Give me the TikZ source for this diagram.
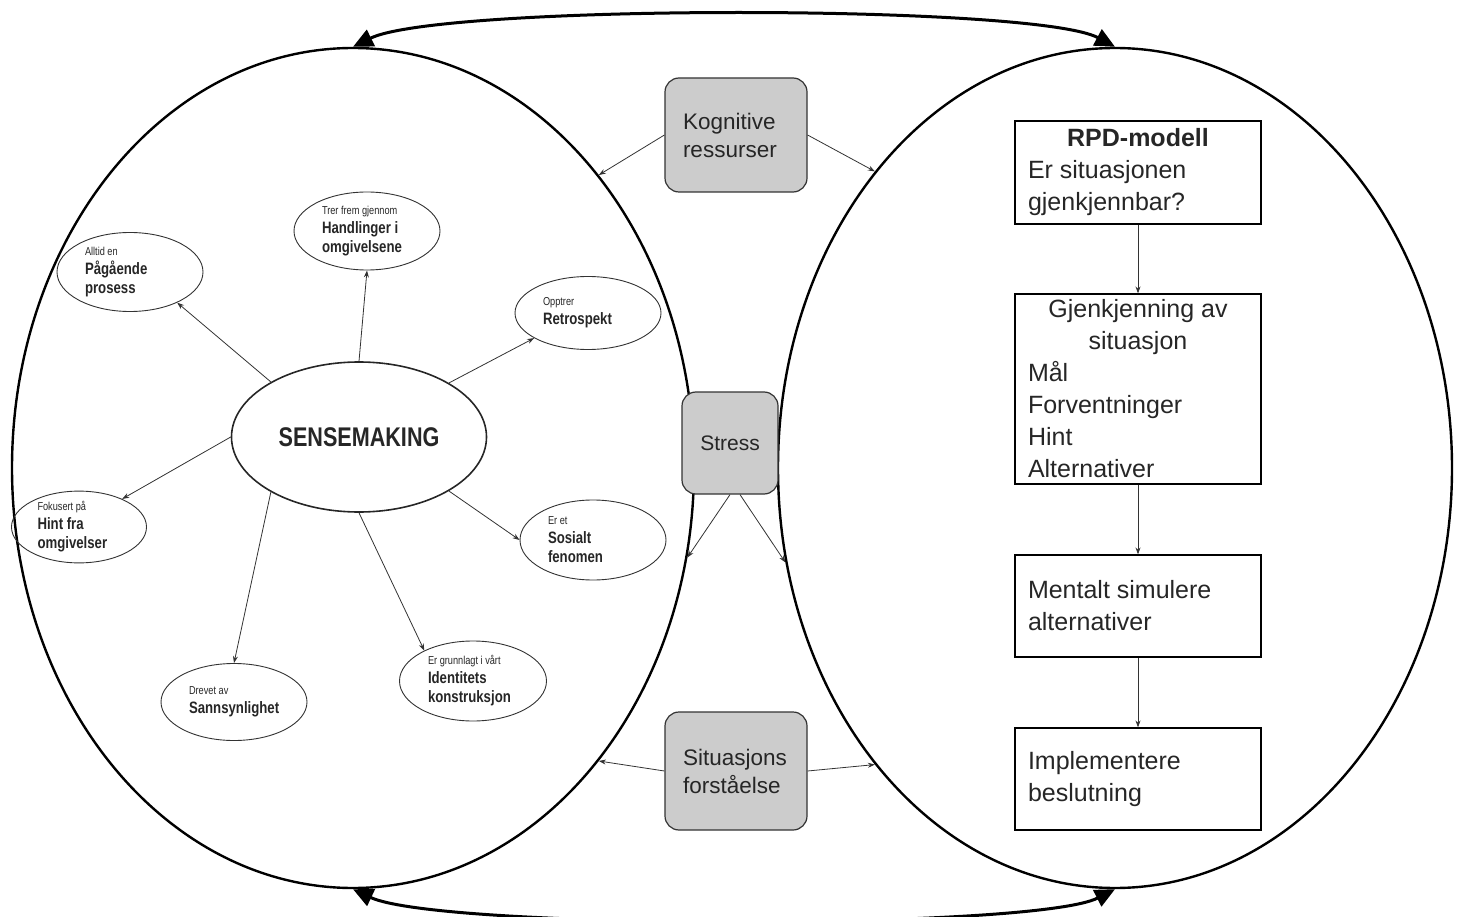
\documentclass[tikz,border=0pt]{standalone}
\usepackage{fontspec}
\setmainfont{Liberation Sans}
\newfontfamily\narrowfont[FakeStretch=0.8]{Liberation Sans}
\usetikzlibrary{shapes.geometric,arrows.meta}
\definecolor{boxgray}{HTML}{CCCCCC}
\definecolor{edgegray}{HTML}{333333}
\newcommand\ellead[1]{{\mdseries\fontsize{11.5}{12}\selectfont #1}\par}
\begin{document}
\begin{tikzpicture}[x=1pt,y=-1pt,
  big/.style={ellipse,draw,line width=2.4pt,inner sep=0pt},
  bigarrow/.style={{Triangle[length=20pt,width=18pt]}-{Triangle[length=20pt,width=18pt]},line width=3pt},
  gbox/.style={draw=edgegray,fill=boxgray,rounded corners=14pt,line width=1.2pt,align=flush left,
    font=\fontsize{22.5}{28}\selectfont,text=black!85,inner sep=0pt},
  smallell/.style={ellipse,draw=edgegray,line width=0.9pt,inner sep=0pt,align=flush left,
    font=\narrowfont\bfseries\fontsize{16.5}{19}\selectfont,text=black!85},
  thinarrow/.style={-{Stealth[length=7pt,width=5pt]},draw=edgegray,line width=0.8pt},
  rbox/.style={draw,line width=1.2pt,text width=220pt,inner xsep=13pt,inner ysep=0pt,align=flush left,
    font=\fontsize{25}{32}\selectfont,text=black!85}
]
\useasboundingbox (0,0) rectangle (1457,917);

% big ellipses
\node[big,minimum width=682pt,minimum height=840pt] (L) at (353,468) {};
\node[big,minimum width=674pt,minimum height=840pt] (R) at (1115,468) {};

% top and bottom arcs
\draw[bigarrow] (L.north) .. controls (440,4) and (1035,4) .. (R.north);
\draw[bigarrow] (L.south) .. controls (440,930) and (1035,930) .. (R.south);

% gray boxes
\node[gbox,text width=106pt,minimum width=142pt,minimum height=114pt] (K) at (736,135) {Kognitive\par ressurser};
\node[gbox,font=\fontsize{21}{26}\selectfont,align=center,minimum width=96pt,minimum height=102pt] (St) at (730,443) {Stress};
\node[gbox,text width=106pt,minimum width=142pt,minimum height=118pt] (Si) at (736,771) {Situasjons\par forståelse};

\draw[thinarrow] (K.west) -- (L.50);
\draw[thinarrow] (K.east) -- (R.129);
\draw[thinarrow] (St.south) -- (L.-15.6);
\draw[thinarrow] ([xshift=10pt]St.south) -- (R.-164);
\draw[thinarrow] (Si.west) -- (L.-50);
\draw[thinarrow] (Si.east) -- (R.-129);

% sensemaking
\node[ellipse,draw=black!85,line width=1.6pt,minimum width=255pt,minimum height=150pt,inner sep=0pt,
  font=\narrowfont\bfseries\fontsize{27}{30}\selectfont,text=black!85] (SM) at (359,437) {SENSEMAKING};

\node[smallell,text width=90pt,minimum width=146pt,minimum height=79pt] (P) at (130,272) {\ellead{Alltid en}Pågående\par prosess};
\node[smallell,text width=90pt,minimum width=146pt,minimum height=78pt] (H) at (367,231) {\ellead{Trer frem gjennom}Handlinger i\par omgivelsene};
\node[smallell,text width=90pt,minimum width=146pt,minimum height=73pt] (Re) at (588,313) {\ellead{Opptrer}Retrospekt};
\node[smallell,text width=83pt,minimum width=135pt,minimum height=63pt] (Hi) at (79,527) {\ellead{Fokusert på}Hint fra\par omgivelser};
\node[smallell,text width=90pt,minimum width=146pt,minimum height=80pt] (So) at (593,540) {\ellead{Er et}Sosialt\par fenomen};
\node[smallell,text width=90pt,minimum width=146pt,minimum height=77pt] (Sa) at (234,702) {\ellead{Drevet av}Sannsynlighet};
\node[smallell,text width=90pt,minimum width=147pt,minimum height=80pt] (Id) at (473,681) {\ellead{Er grunnlagt i vårt}Identitets\par konstruksjon};

\draw[thinarrow] (SM.148) -- (P.-33);
\draw[thinarrow] (SM.north) -- (H.south);
\draw[thinarrow] (SM.31) -- (Re.205);
\draw[thinarrow] (SM.west) -- (Hi.33);
\draw[thinarrow] (SM.-31) -- (So.west);
\draw[thinarrow] (SM.-148) -- (Sa.north);
\draw[thinarrow] (SM.south) -- (Id.148);

% right boxes
\node[rbox,minimum height=103pt] (B1) at (1138,172.5) {{\centering\bfseries RPD-modell\par}Er situasjonen\par gjenkjennbar?};
\node[rbox,minimum height=190pt] (B2) at (1138,389) {{\centering Gjenkjenning av\par situasjon\par}Mål\par Forventninger\par Hint\par Alternativer};
\node[rbox,minimum height=102pt] (B3) at (1138,606) {Mentalt simulere\par alternativer};
\node[rbox,minimum height=102pt] (B4) at (1138,779) {Implementere\par beslutning};

\draw[thinarrow] (B1) -- (B2);
\draw[thinarrow] (B2) -- (B3);
\draw[thinarrow] (B3) -- (B4);
\end{tikzpicture}
\end{document}
